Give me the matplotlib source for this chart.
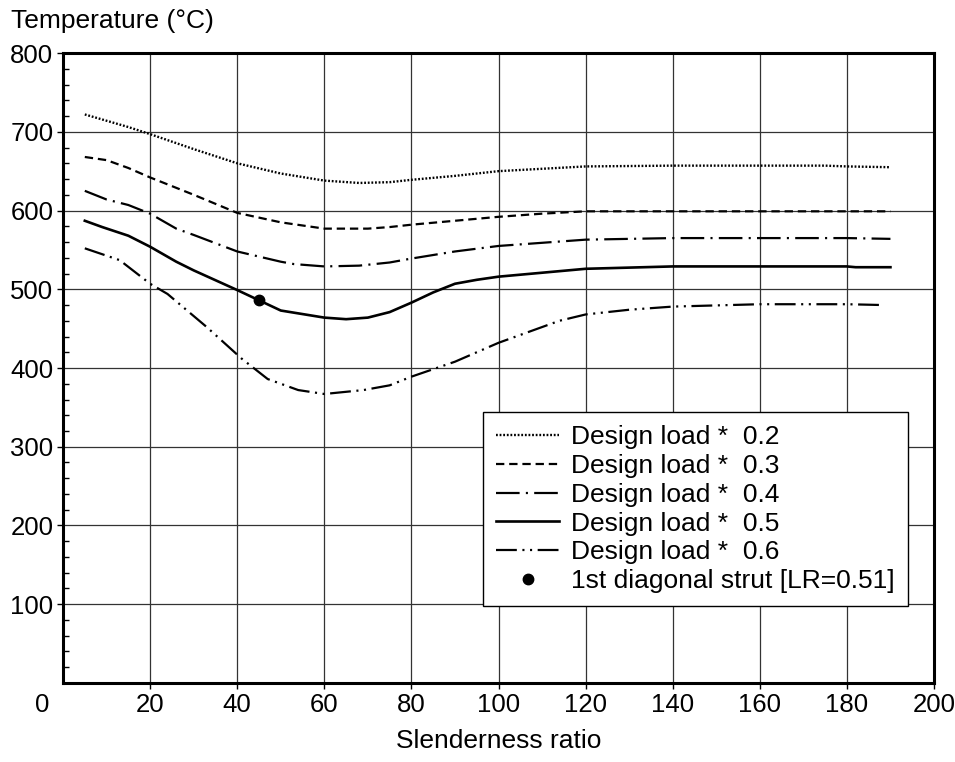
import matplotlib
matplotlib.use("Agg")
import matplotlib.pyplot as plt
from matplotlib.ticker import MultipleLocator

plt.rcParams["font.family"] = ["Liberation Sans", "DejaVu Sans"]
plt.rcParams["lines.scale_dashes"] = False

# -------------------------------------------------
# Data
# -------------------------------------------------
load02_x = [5, 10, 15, 20, 30, 40, 50, 60, 68, 75, 80, 90, 100, 110, 120, 140, 160, 175, 180, 190]
load02_y = [722, 714, 706, 697, 678, 660, 647, 638, 635, 636, 639, 644, 650, 653, 656, 657, 657, 657, 656, 655]

load03_x = [5, 10, 15, 20, 25, 30, 40, 50, 60, 70, 75, 80, 90, 100, 110, 120, 140, 160, 180, 190]
load03_y = [668, 664, 654, 642, 631, 620, 597, 585, 577, 577, 579, 582, 587, 592, 596, 599, 599, 599, 599, 599]

load04_x = [5, 10, 15, 20, 26, 30, 40, 50, 53, 60, 68, 75, 80, 90, 100, 110, 120, 140, 160, 180, 190]
load04_y = [625, 614, 607, 596, 577, 569, 548, 535, 532, 529, 530, 534, 539, 548, 555, 559, 563, 565, 565, 565, 564]

load05_x = [5, 9, 15, 20, 26, 30, 40, 45, 50, 60, 65, 70, 75, 80, 85, 90, 95, 100, 110, 120, 140, 160, 180, 182, 190]
load05_y = [587, 579, 568, 554, 535, 524, 499, 486, 473, 464, 462, 464, 471, 483, 496, 507, 512, 516, 521, 526, 529, 529, 529, 528, 528]

load06_x = [5, 13, 20, 24, 33, 41, 47, 54, 60, 69, 75, 80, 90, 100, 114, 120, 130, 140, 160, 180, 188]
load06_y = [552, 537, 507, 494, 452, 412, 386, 372, 367, 372, 378, 389, 408, 432, 460, 468, 474, 478, 481, 481, 480]

strut_x = [45]
strut_y = [487]

labels = ["Design load *  0.2", "Design load *  0.3", "Design load *  0.4",
          "Design load *  0.5", "Design load *  0.6", "1st diagonal strut [LR=0.51]"]

FS = 19
TICK_FS = 18.5

# -------------------------------------------------
# Figure
# -------------------------------------------------
fig = plt.figure(figsize=(9.55, 7.62), dpi=100)
ax = fig.add_axes([0.066, 0.1037, 0.912, 0.8267])

ax.plot(load02_x, load02_y, color="black", lw=1.7, dashes=(1.3, 1.3), label=labels[0])
ax.plot(load03_x, load03_y, color="black", lw=1.6, dashes=(6, 3.5), label=labels[1])
ax.plot(load04_x, load04_y, color="black", lw=1.6, dashes=(17, 4.5, 1.5, 4.5), label=labels[2])
ax.plot(load05_x, load05_y, color="black", lw=1.9, label=labels[3])
ax.plot(load06_x, load06_y, color="black", lw=1.6, dashes=(15, 4, 1.5, 4, 1.5, 4), label=labels[4])
ax.plot(strut_x, strut_y, "o", color="black", ms=7.5, ls="none", label=labels[5])

ax.set_xlim(0, 200)
ax.set_ylim(0, 800)
ax.xaxis.set_major_locator(MultipleLocator(20))
ax.yaxis.set_major_locator(MultipleLocator(100))
ax.yaxis.set_minor_locator(MultipleLocator(20))
ax.grid(True, which="major", color="#333333", lw=0.9)
ax.set_axisbelow(True)

for sp in ax.spines.values():
    sp.set_linewidth(2.2)

ax.tick_params(axis="both", which="major", labelsize=TICK_FS, length=4, width=1, direction="out", pad=3)
ax.tick_params(axis="y", which="minor", length=4, width=1, direction="in")

ax.set_xticks(range(20, 201, 20))
ax.set_yticks(range(100, 801, 100))
ax.annotate("0", xy=(0, 0), xycoords="axes fraction", xytext=(-15, -7),
            textcoords="offset points", ha="center", va="top", fontsize=TICK_FS)

ax.set_xlabel("Slenderness ratio", fontsize=FS, labelpad=9)
fig.text(0.012, 0.972, "Temperature (°C)", fontsize=FS, ha="left", va="center")

leg = ax.legend(loc="upper right", bbox_to_anchor=(0.970, 0.430), fontsize=FS,
                fancybox=False, framealpha=1, edgecolor="black", handlelength=2.4,
                handletextpad=0.45, labelspacing=0.18, borderpad=0.5, borderaxespad=0)
leg.get_frame().set_linewidth(1.0)

fig.savefig("out.png", dpi=100)
